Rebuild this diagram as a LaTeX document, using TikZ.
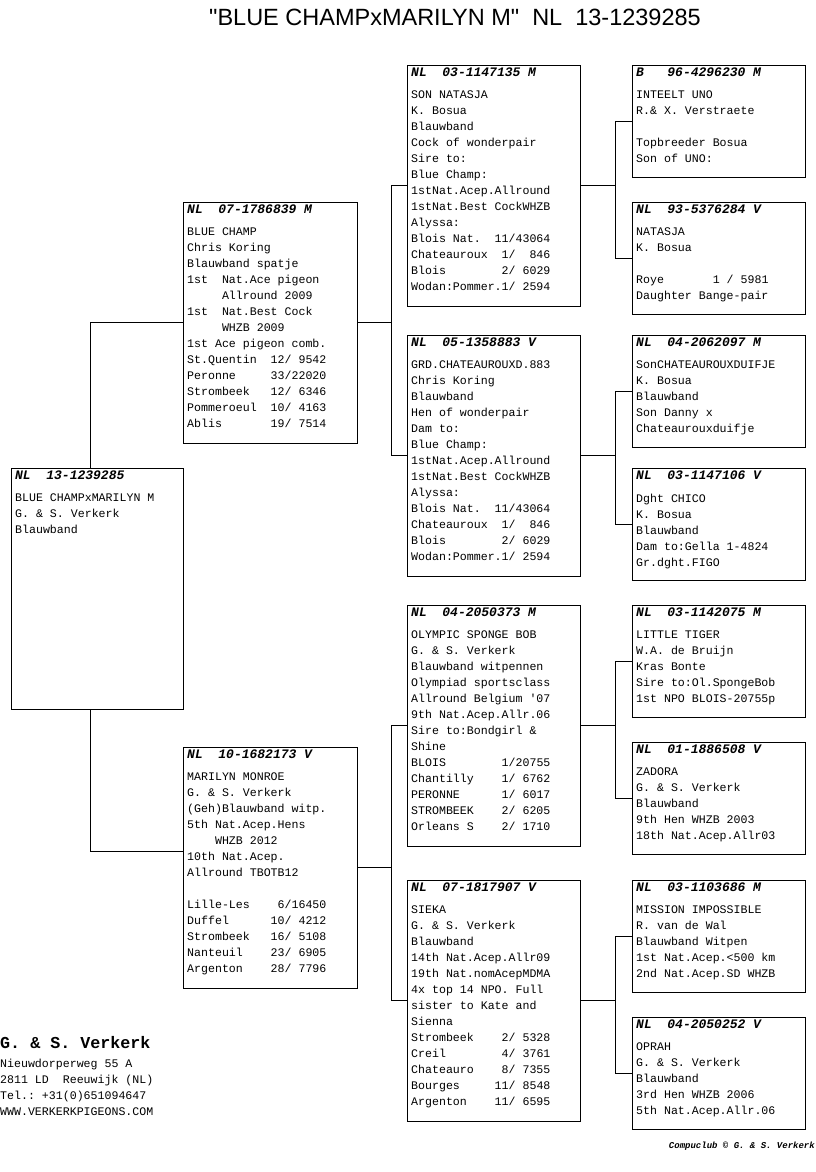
\documentclass[tikz,border=0pt]{standalone}
\usepackage{fontspec}
\setmainfont{Liberation Sans}
\setmonofont{Liberation Mono}
\newcommand\pedfont{\ttfamily\fontsize{11.6}{16}\selectfont\frenchspacing}
\newcommand\pedhead{\ttfamily\bfseries\itshape\fontsize{13}{16}\selectfont}

\begin{document}
\begin{tikzpicture}[x=1pt,y=-1pt,
    pbox/.style={draw=black,line width=0.9pt,anchor=north west,inner sep=0pt,outer sep=0pt,
                 minimum width=173pt,minimum height=241pt},
    pboxs/.style={pbox,minimum height=112pt},
    phead/.style={anchor=base west,inner sep=0pt,font=\pedhead},
    pbody/.style={anchor=north west,inner sep=0pt,align=left,font=\pedfont,execute at begin node=\strut},
    link/.style={line width=0.9pt}]
  \fill[white] (0,0) rectangle (816,1172);
  \useasboundingbox (0,0) rectangle (816,1172);

  % title
  \node[anchor=base,inner sep=0pt,font=\fontsize{23.5}{26}\selectfont] (title) at (455,26)
       {\textquotedbl BLUE CHAMPxMARILYN M\textquotedbl~~NL~~13-1239285};

  % subject
  \node[pbox,minimum width=172pt] (subj) at (11,468) {};
  \node[phead] (subj-h) at ([shift={(4,11)}]subj.north west) {NL~~13-1239285};
  \node[pbody] (subj-t) at ([shift={(4,25.5)}]subj.north west)
       {BLUE CHAMPxMARILYN M\\G. \& S. Verkerk\\Blauwband};

  % parents
  \node[pbox,minimum width=174pt] (sire) at (183,202) {};
  \node[phead] (sire-h) at ([shift={(4,11)}]sire.north west) {NL~~07-1786839 M};
  \node[pbody] (sire-t) at ([shift={(4,25.5)}]sire.north west)
       {BLUE CHAMP\\Chris Koring\\Blauwband spatje\\1st~~Nat.Ace pigeon\\~~~~~Allround 2009\\
        1st~~Nat.Best Cock\\~~~~~WHZB 2009\\1st Ace pigeon comb.\\St.Quentin~~12/~9542\\
        Peronne~~~~~33/22020\\Strombeek~~~12/~6346\\Pommeroeul~~10/~4163\\Ablis~~~~~~~19/~7514};
  \node[pbox,minimum width=174pt] (dam) at (183,747) {};
  \node[phead] (dam-h) at ([shift={(4,11)}]dam.north west) {NL~~10-1682173 V};
  \node[pbody] (dam-t) at ([shift={(4,25.5)}]dam.north west)
       {MARILYN MONROE\\G. \& S. Verkerk\\(Geh)Blauwband witp.\\5th Nat.Acep.Hens\\~~~~WHZB 2012\\
        10th Nat.Acep.\\Allround TBOTB12\\[16pt]Lille-Les~~~~6/16450\\Duffel~~~~~~10/~4212\\
        Strombeek~~~16/~5108\\Nanteuil~~~~23/~6905\\Argenton~~~~28/~7796};

  % grandparents
  \node[pbox] (ss) at (407,65) {};
  \node[phead] (ss-h) at ([shift={(4,11)}]ss.north west) {NL~~03-1147135 M};
  \node[pbody] (ss-t) at ([shift={(4,25.5)}]ss.north west)
       {SON NATASJA\\K. Bosua\\Blauwband\\Cock of wonderpair\\Sire to:\\Blue Champ:\\
        1stNat.Acep.Allround\\1stNat.Best CockWHZB\\Alyssa:\\Blois Nat.~~11/43064\\
        Chateauroux~~1/~~846\\Blois~~~~~~~~2/~6029\\Wodan:Pommer.1/~2594};
  \node[pbox] (sd) at (407,335) {};
  \node[phead] (sd-h) at ([shift={(4,11)}]sd.north west) {NL~~05-1358883 V};
  \node[pbody] (sd-t) at ([shift={(4,25.5)}]sd.north west)
       {GRD.CHATEAUROUXD.883\\Chris Koring\\Blauwband\\Hen of wonderpair\\Dam to:\\Blue Champ:\\
        1stNat.Acep.Allround\\1stNat.Best CockWHZB\\Alyssa:\\Blois Nat.~~11/43064\\
        Chateauroux~~1/~~846\\Blois~~~~~~~~2/~6029\\Wodan:Pommer.1/~2594};
  \node[pbox] (ds) at (407,605) {};
  \node[phead] (ds-h) at ([shift={(4,11)}]ds.north west) {NL~~04-2050373 M};
  \node[pbody] (ds-t) at ([shift={(4,25.5)}]ds.north west)
       {OLYMPIC SPONGE BOB\\G. \& S. Verkerk\\Blauwband witpennen\\Olympiad sportsclass\\
        Allround Belgium \textquotesingle07\\9th Nat.Acep.Allr.06\\Sire to:Bondgirl \&\\Shine\\
        BLOIS~~~~~~~~1/20755\\Chantilly~~~~1/~6762\\PERONNE~~~~~~1/~6017\\
        STROMBEEK~~~~2/~6205\\Orleans S~~~~2/~1710};
  \node[pbox] (dd) at (407,880) {};
  \node[phead] (dd-h) at ([shift={(4,11)}]dd.north west) {NL~~07-1817907 V};
  \node[pbody] (dd-t) at ([shift={(4,25.5)}]dd.north west)
       {SIEKA\\G. \& S. Verkerk\\Blauwband\\14th Nat.Acep.Allr09\\19th Nat.nomAcepMDMA\\
        4x top 14 NPO. Full\\sister to Kate and\\Sienna\\Strombeek~~~~2/~5328\\
        Creil~~~~~~~~4/~3761\\Chateauro~~~~8/~7355\\Bourges~~~~~11/~8548\\Argenton~~~~11/~6595};

  % great-grandparents
  \node[pboxs] (sss) at (632,65) {};
  \node[phead] (sss-h) at ([shift={(4,11)}]sss.north west) {B~~~96-4296230 M};
  \node[pbody] (sss-t) at ([shift={(4,25.5)}]sss.north west)
       {INTEELT UNO\\R.\& X. Verstraete\\[16pt]Topbreeder Bosua\\Son of UNO:};
  \node[pboxs] (ssd) at (632,202) {};
  \node[phead] (ssd-h) at ([shift={(4,11)}]ssd.north west) {NL~~93-5376284 V};
  \node[pbody] (ssd-t) at ([shift={(4,25.5)}]ssd.north west)
       {NATASJA\\K. Bosua\\[16pt]Roye~~~~~~~1 / 5981\\Daughter Bange-pair};
  \node[pboxs] (sds) at (632,335) {};
  \node[phead] (sds-h) at ([shift={(4,11)}]sds.north west) {NL~~04-2062097 M};
  \node[pbody] (sds-t) at ([shift={(4,25.5)}]sds.north west)
       {SonCHATEAUROUXDUIFJE\\K. Bosua\\Blauwband\\Son Danny x\\Chateaurouxduifje};
  \node[pboxs] (sdd) at (632,468) {};
  \node[phead] (sdd-h) at ([shift={(4,11)}]sdd.north west) {NL~~03-1147106 V};
  \node[pbody] (sdd-t) at ([shift={(4,25.5)}]sdd.north west)
       {Dght CHICO\\K. Bosua\\Blauwband\\Dam to:Gella 1-4824\\Gr.dght.FIGO};
  \node[pboxs] (dss) at (632,605) {};
  \node[phead] (dss-h) at ([shift={(4,11)}]dss.north west) {NL~~03-1142075 M};
  \node[pbody] (dss-t) at ([shift={(4,25.5)}]dss.north west)
       {LITTLE TIGER\\W.A. de Bruijn\\Kras Bonte\\Sire to:Ol.SpongeBob\\1st NPO BLOIS-20755p};
  \node[pboxs] (dsd) at (632,742) {};
  \node[phead] (dsd-h) at ([shift={(4,11)}]dsd.north west) {NL~~01-1886508 V};
  \node[pbody] (dsd-t) at ([shift={(4,25.5)}]dsd.north west)
       {ZADORA\\G. \& S. Verkerk\\Blauwband\\9th Hen WHZB 2003\\18th Nat.Acep.Allr03};
  \node[pboxs] (dds) at (632,880) {};
  \node[phead] (dds-h) at ([shift={(4,11)}]dds.north west) {NL~~03-1103686 M};
  \node[pbody] (dds-t) at ([shift={(4,25.5)}]dds.north west)
       {MISSION IMPOSSIBLE\\R. van de Wal\\Blauwband Witpen\\1st Nat.Acep.<500 km\\2nd Nat.Acep.SD WHZB};
  \node[pboxs] (ddd) at (632,1017) {};
  \node[phead] (ddd-h) at ([shift={(4,11)}]ddd.north west) {NL~~04-2050252 V};
  \node[pbody] (ddd-t) at ([shift={(4,25.5)}]ddd.north west)
       {OPRAH\\G. \& S. Verkerk\\Blauwband\\3rd Hen WHZB 2006\\5th Nat.Acep.Allr.06};

  % connectors
  \draw[link] ([xshift=-7pt]subj.north) |- (sire.west);
  \draw[link] ([xshift=-7pt]subj.south) |- ([yshift=16pt]dam.west);
  \draw[link] (sire.east) -- ++(34,0);
  \draw[link] (ss.west) -- ++(-16,0) |- (sd.west);
  \draw[link] (dam.east) -- ++(34,0);
  \draw[link] (ds.west) -- ++(-16,0) |- (dd.west);
  \draw[link] (ss.east) -- ++(35,0);
  \draw[link] (sss.west) -- ++(-17,0) |- (ssd.west);
  \draw[link] (sd.east) -- ++(35,0);
  \draw[link] (sds.west) -- ++(-17,0) |- (sdd.west);
  \draw[link] (ds.east) -- ++(35,0);
  \draw[link] (dss.west) -- ++(-17,0) |- (dsd.west);
  \draw[link] (dd.east) -- ++(35,0);
  \draw[link] (dds.west) -- ++(-17,0) |- (ddd.west);

  % breeder
  \node[anchor=base west,inner sep=0pt,font=\ttfamily\bfseries\fontsize{16.7}{18}\selectfont] (brd) at (0,1048)
       {G. \& S. Verkerk};
  \node[pbody] (adr) at (0,1058.8)
       {Nieuwdorperweg 55 A\\2811 LD~~Reeuwijk (NL)\\Tel.: +31(0)651094647\\WWW.VERKERKPIGEONS.COM};
  \node[anchor=base east,inner sep=0pt,font=\ttfamily\bfseries\itshape\fontsize{9}{10}\selectfont] (cc) at (815,1148)
       {Compuclub © G. \& S. Verkerk};
\end{tikzpicture}
\end{document}
